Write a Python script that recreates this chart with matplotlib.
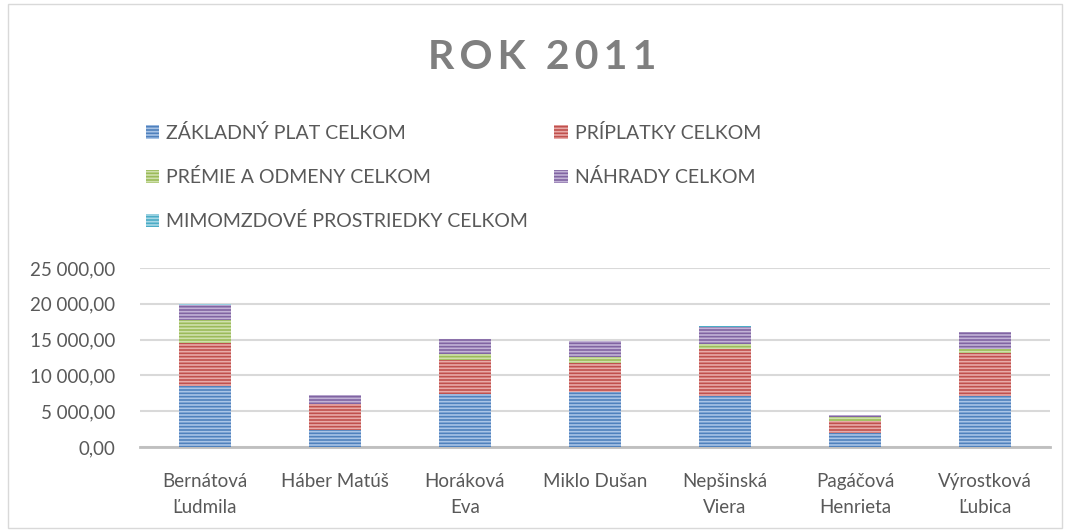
import numpy as np
import matplotlib
matplotlib.use('Agg')
import matplotlib.pyplot as plt
from matplotlib.ticker import FuncFormatter
from matplotlib.patches import Rectangle

plt.rcParams['font.family'] = ['Lato', 'DejaVu Sans']
plt.rcParams['hatch.linewidth'] = 1.2

# --- data ---
names = ['Bernátová\nĽudmila', 'Háber Matúš', 'Horáková\nEva', 'Miklo Dušan',
         'Nepšinská\nViera', 'Pagáčová\nHenrieta', 'Výrostková\nĽubica']
zakladny = [8460, 2420, 7440, 7630, 7070, 1950, 7070]
priplatky = [6070, 3580, 4750, 4100, 6620, 1720, 6060]
premie = [3250, 0, 840, 840, 740, 520, 600]
nahrady = [2120, 1210, 2000, 2180, 2370, 320, 2330]
mimomzdove = [100, 0, 50, 0, 100, 0, 0]

series = [
    ('ZÁKLADNÝ PLAT CELKOM', zakladny, '#4F81BD', '#A9C4E6'),
    ('PRÍPLATKY CELKOM', priplatky, '#C0504D', '#E8AAA8'),
    ('PRÉMIE A ODMENY CELKOM', premie, '#9BBB59', '#CFE0AC'),
    ('NÁHRADY CELKOM', nahrady, '#8064A2', '#C2B3D6'),
    ('MIMOMZDOVÉ PROSTRIEDKY CELKOM', mimomzdove, '#4BACC6', '#A8D8E6'),
]

text_col = '#595959'

fig = plt.figure(figsize=(10.68, 5.32), dpi=100)
ax = fig.add_axes([140 / 1068, 85 / 532, 910 / 1068, 179 / 532])

x = np.arange(len(names))
bottom = np.zeros(len(names))
handles = []
for label, vals, col, stripe in series:
    bars = ax.bar(x, vals, 0.4, bottom=bottom, color=col, edgecolor=stripe,
                  linewidth=0, hatch='-----', label=label, zorder=3)
    handles.append(bars)
    bottom += np.array(vals)

ax.set_ylim(0, 25000)
ax.set_xlim(-0.5, len(names) - 0.5)
ax.set_yticks(np.arange(0, 25001, 5000))
ax.yaxis.set_major_formatter(FuncFormatter(
    lambda v, p: f'{v:,.2f}'.replace(',', ' ').replace('.', ',')))
ax.set_xticks(x)
ax.set_xticklabels(names, fontsize=13.5, color=text_col, linespacing=1.65)
ax.tick_params(axis='y', labelsize=13.5, labelcolor=text_col, length=0, pad=18)
ax.tick_params(axis='x', length=0, pad=19)
ax.grid(axis='y', color='#D9D9D9', linewidth=1.5, zorder=0)
for s in ['top', 'right', 'left']:
    ax.spines[s].set_visible(False)
ax.spines['bottom'].set_color('#BFBFBF')
ax.spines['bottom'].set_linewidth(2)

# letter-spaced title
title = '\u2009'.join('ROK 2011')
fig.text(0.508, 0.891, title, ha='center', va='center', fontsize=29.5,
         fontweight='bold', color='#7F7F7F')

order = [0, 2, 4, 1, 3]
leg = fig.legend([handles[i] for i in order], [series[i][0] for i in order],
                 ncol=2, loc='upper left', bbox_to_anchor=(128 / 1068, 0.8),
                 frameon=False, fontsize=14, labelcolor=text_col,
                 handlelength=0.7, handleheight=0.7, handletextpad=0.35,
                 columnspacing=1.37, labelspacing=1.35)

# chart border
fig.patches.append(Rectangle((8 / 1068, 4 / 532), 1054 / 1068, 524 / 532,
                             transform=fig.transFigure, fill=False,
                             edgecolor='#D9D9D9', linewidth=1))

fig.savefig('out.png', dpi=100)
